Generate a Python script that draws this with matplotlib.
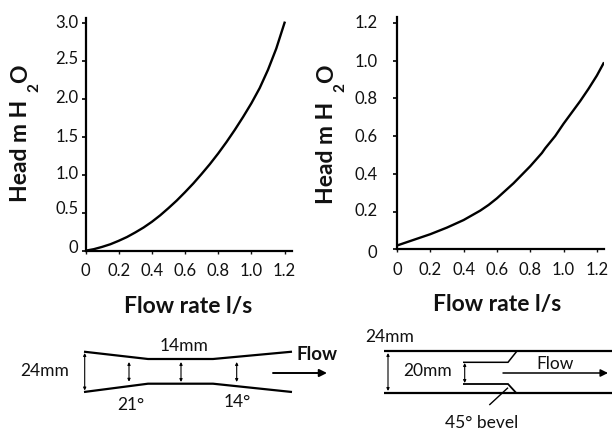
import matplotlib
matplotlib.use("Agg")
import matplotlib.pyplot as plt
from matplotlib.transforms import ScaledTranslation

plt.rcParams['font.family'] = ['Lato', 'DejaVu Sans']

# courbe de gauche
flow_a = [0, 0.05, 0.1, 0.15, 0.2, 0.25, 0.3, 0.35, 0.4, 0.45, 0.5, 0.55, 0.6, 0.65, 0.7, 0.75, 0.8,
          0.85, 0.9, 0.95, 1.0, 1.05, 1.1, 1.15, 1.2]
head_a = [0, 0.02, 0.05, 0.085, 0.13, 0.18, 0.24, 0.305, 0.38, 0.465, 0.56, 0.66, 0.77, 0.885, 1.01, 1.14, 1.28,
          1.43, 1.59, 1.76, 1.94, 2.14, 2.38, 2.66, 3.0]
# courbe de droite
flow_b = [0, 0.1, 0.2, 0.3, 0.4, 0.45, 0.5, 0.55, 0.6, 0.65, 0.7, 0.75, 0.8, 0.85, 0.87, 0.89, 0.95,
          1.0, 1.05, 1.1, 1.15, 1.2, 1.24]
head_b = [0.02, 0.05, 0.08, 0.115, 0.155, 0.18, 0.205, 0.235, 0.27, 0.31, 0.35, 0.395, 0.44, 0.49, 0.51, 0.535, 0.6,
          0.665, 0.725, 0.785, 0.85, 0.92, 0.985]

ticks_x = [0, 0.2, 0.4, 0.6, 0.8, 1.0, 1.2]
labels_x = ['0', '0.2', '0.4', '0.6', '0.8', '1.0', '1.2']
ticks_a = [0, 0.5, 1.0, 1.5, 2.0, 2.5, 3.0]
labels_a = ['0', '0.5', '1.0', '1.5', '2.0', '2.5', '3.0']
ticks_b = [0, 0.2, 0.4, 0.6, 0.8, 1.0, 1.2]
labels_b = ['0', '0.2', '0.4', '0.6', '0.8', '1.0', '1.2']

W, H = 612, 430
fig = plt.figure(figsize=(W / 100, H / 100), dpi=100)


def make_axes(x0, x1, ytop, ybot, xlim, ylim, ypad):
    ax = fig.add_axes([x0 / W, 1 - ybot / H, (x1 - x0) / W, (ybot - ytop) / H])
    ax.set_xlim(0, xlim)
    ax.set_ylim(0, ylim)
    ax.patch.set_alpha(0)
    ax.spines['top'].set_visible(False)
    ax.spines['right'].set_visible(False)
    ax.spines['left'].set_linewidth(1.6)
    ax.spines['bottom'].set_linewidth(1.6)
    ax.tick_params(axis='y', length=3.2, width=1.3, labelsize=12, colors='#111111', pad=ypad)
    ax.tick_params(axis='x', length=2, width=1.0, labelsize=12, colors='#111111', pad=7)
    return ax


def shift_labels(ax, offsets):
    # les étiquettes ne sont pas bien centrées sur les graduations dans l'original
    for lab, off in zip(ax.get_yticklabels(), offsets):
        lab.set_transform(lab.get_transform() + ScaledTranslation(0, off / 100, fig.dpi_scale_trans))


ax1 = make_axes(85.5, 291.7, 18.3, 250.7, 1.243, 3.058, 2)
ax1.plot(flow_a, head_a, color='black', lw=1.7)
ax1.set_xticks(ticks_x, labels_x)
ax1.set_yticks(ticks_a, labels_a)
shift_labels(ax1, [4, 5.7, 2.3, 1.7, 2, 3, 1.7])

ax2 = make_axes(397, 603.5, 16.7, 249.3, 1.24, 1.232, 11)
ax2.plot(flow_b, head_b, color='black', lw=1.7)
ax2.set_xticks(ticks_x, labels_x)
ax2.set_yticks(ticks_b, labels_b)
shift_labels(ax2, [-2.3, 2, 0.7, 1, 0.7, 0, 1.7])

# schémas du bas, en pixels
sk = fig.add_axes([0, 0, 1, 1])
sk.set_xlim(0, W)
sk.set_ylim(H, 0)
sk.axis('off')
sk.patch.set_alpha(0)


def txt(x, y, s, size=12.5, weight='normal', **kw):
    sk.text(x, y, s, fontsize=size, fontweight=weight, ha='center', va='center', color='#111111', **kw)


def seg(xs, ys, lw=1.6):
    sk.plot(xs, ys, color='black', lw=lw, solid_capstyle='butt', solid_joinstyle='miter')


def arrow(x0, y0, x1, y1, style='-|>', lw=0.8, scale=5):
    sk.annotate('', xy=(x1, y1), xytext=(x0, y0),
                arrowprops=dict(arrowstyle=style, lw=lw, color='black', mutation_scale=scale,
                                shrinkA=0, shrinkB=0))


txt(45, 370.7, '24mm')
txt(184, 346, '14mm')
txt(130.7, 405, '21°')
txt(237, 402, '14°')
txt(317, 354, 'Flow', size=13.5, weight='bold')
seg([84, 148, 213, 292], [351.7, 359, 359, 351.7])
seg([84, 148, 213, 292], [392, 383.7, 383.7, 392])
for x, y0, y1 in [(84.7, 353, 390.5), (129, 362, 381.7), (181, 362, 382), (236.7, 362, 382)]:
    arrow(x, y0, x, y1, style='<|-|>', scale=4)
arrow(273, 373, 327, 373, lw=1.4, scale=11)

txt(390, 336.7, '24mm')
txt(428, 370.7, '20mm')
txt(555, 364, 'Flow')
txt(481.7, 422.7, '45° bevel')
seg([384, 612], [351, 351])
seg([384, 612], [392.7, 392.7])
seg([463, 508, 517], [362.3, 362.3, 351], lw=1.1)
seg([463, 508, 516], [384, 384, 392.7], lw=1.3)
seg([489.3, 508], [405, 387.7], lw=1.0)
arrow(388, 353, 388, 391, style='<|-|>', scale=4)
arrow(464.7, 363, 464.7, 383, style='<|-|>', scale=4)
arrow(503, 373, 608, 373, lw=1.1, scale=11)

# titres des axes
txt(188.5, 307, 'Flow rate l/s', size=16.5, weight='bold')
txt(497.5, 305, 'Flow rate l/s', size=16.5, weight='bold')
# H2O en trois morceaux, l'indice est décalé vers le bas
for x, y_head, y_two, y_oh in [(20.5, 151, 87, 74), (326.7, 152.5, 88, 74)]:
    txt(x, y_head, 'Head m H', size=16.5, weight='bold', rotation=90)
    txt(x + 14, y_two, '2', size=11, weight='bold', rotation=90)
    txt(x, y_oh, 'O', size=16.5, weight='bold', rotation=90)

fig.savefig('out.png', dpi=100)
